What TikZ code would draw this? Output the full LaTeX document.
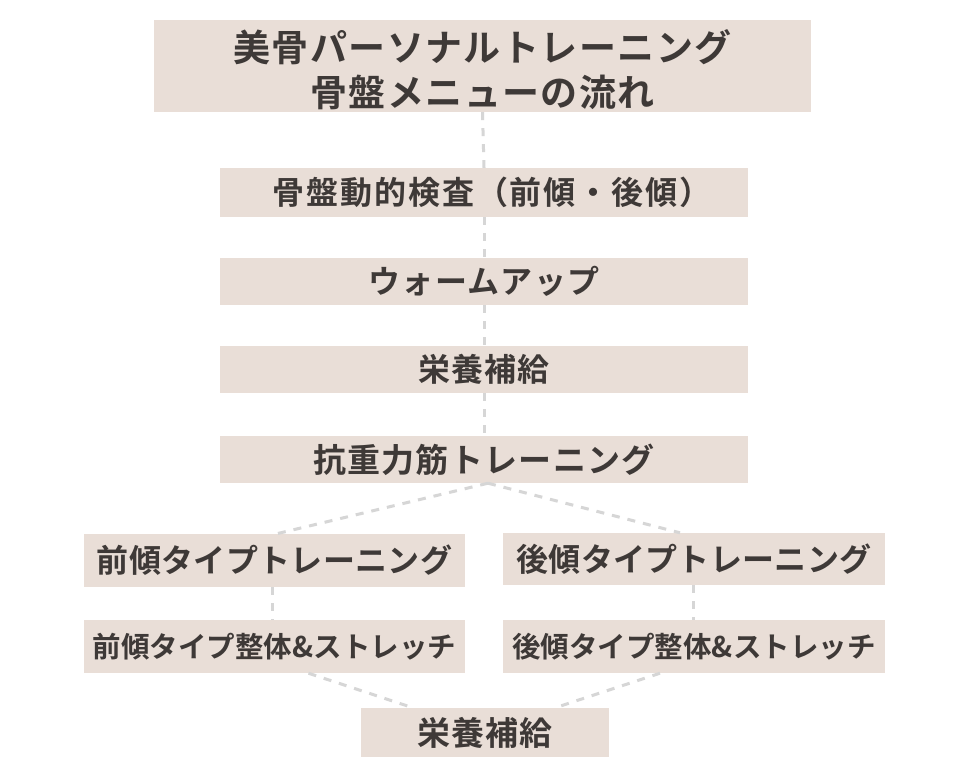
\documentclass[tikz,border=0pt]{standalone}
\usepackage{fontspec}
\setmainfont{Noto Sans CJK JP}[BoldFont={Noto Sans CJK JP Bold}]
\newfontfamily\jpw{Noto Sans CJK JP Bold}[LetterSpace=4]
\newfontfamily\jpx{Noto Sans CJK JP Bold}[LetterSpace=6]
\newfontfamily\jpn{Noto Sans CJK JP Bold}[LetterSpace=1]
\definecolor{boxfill}{RGB}{233,222,215}
\definecolor{txt}{RGB}{62,57,55}
\definecolor{dashc}{RGB}{214,214,214}
\begin{document}
\begin{tikzpicture}[x=1pt,y=-1pt,
  stepbox/.style={fill=boxfill,text=txt,inner sep=0pt,anchor=center},
  conn/.style={draw=dashc,line width=3pt,dash pattern=on 8pt off 8pt}]
\useasboundingbox (0,0) rectangle (960,774);
\fill[white] (0,0) rectangle (960,774);
% nodes
\node[stepbox,minimum width=657pt,minimum height=92pt,align=center,font=\jpw\fontsize{37}{45}\selectfont] (title) at (482.5,66) {\rule{0pt}{39pt}美骨パーソナルトレーニング\\骨盤メニューの流れ};
\node[stepbox,minimum width=528pt,minimum height=49pt,font=\jpx\fontsize{32}{36}\selectfont] (b2) at (484,192.5) {\hspace*{16pt}骨盤動的検査（前傾・後傾）};
\node[stepbox,minimum width=528pt,minimum height=47pt,font=\jpw\fontsize{32}{36}\selectfont] (b3) at (484,281.5) {ウォームアップ};
\node[stepbox,minimum width=528pt,minimum height=47pt,font=\jpw\fontsize{32}{36}\selectfont] (b4) at (484,369.5) {栄養補給};
\node[stepbox,minimum width=528pt,minimum height=47pt,font=\jpw\fontsize{33}{36}\selectfont] (b5) at (484,459.5) {抗重力筋トレーニング};
\node[stepbox,minimum width=381pt,minimum height=53pt,font=\jpn\fontsize{32}{36}\selectfont] (l1) at (274.5,560.5) {前傾タイプトレーニング};
\node[stepbox,minimum width=382pt,minimum height=52pt,font=\jpn\fontsize{32}{36}\selectfont] (r1) at (694,559) {後傾タイプトレーニング};
\node[stepbox,minimum width=381pt,minimum height=53pt,font=\bfseries\fontsize{28.5}{34}\selectfont] (l2) at (274.5,646.5) {前傾タイプ整体\&ストレッチ};
\node[stepbox,minimum width=382pt,minimum height=53pt,font=\bfseries\fontsize{28.5}{34}\selectfont] (r2) at (694,646.5) {後傾タイプ整体\&ストレッチ};
\node[stepbox,minimum width=248pt,minimum height=49pt,font=\jpw\fontsize{33}{36}\selectfont] (b6) at (485,732.5) {栄養補給};
% connectors
\draw[conn] (title.south) -- (b2.north);
\draw[conn] (b2.south) -- (b3.north);
\draw[conn] (b3.south) -- (b4.north);
\draw[conn] (b4.south) -- (b5.north);
\draw[conn] ([xshift=4pt]b5.south) -- ([xshift=2pt]l1.north);
\draw[conn] ([xshift=4pt]b5.south) -- ([xshift=-14pt]r1.north);
\draw[conn] ([xshift=-2pt]l1.south) -- ([xshift=-2pt]l2.north);
\draw[conn] ([xshift=-1pt]r1.south) -- ([xshift=-1pt]r2.north);
\draw[conn] ([xshift=34pt]l2.south) -- ([xshift=-72pt]b6.north);
\draw[conn] ([xshift=-34pt]r2.south) -- ([xshift=70pt]b6.north);
\end{tikzpicture}
\end{document}
